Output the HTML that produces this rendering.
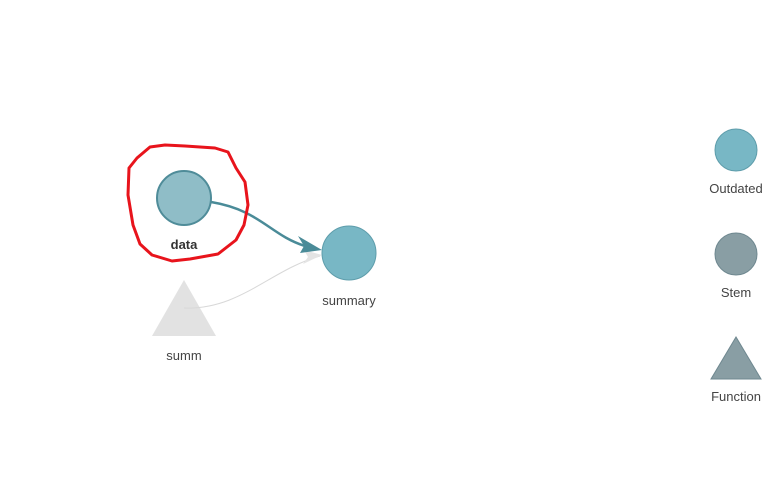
<!DOCTYPE html>
<html><head><style>body{margin:0;background:#fff}svg{display:block}text{font-family:"Liberation Sans",Arial,sans-serif;font-size:13px;fill:#444;text-anchor:middle}</style></head>
<body>
<svg width="771" height="491" viewBox="0 0 771 491">
<polygon points="184,280 152,336 216,336" fill="#e2e2e2"/>
<path d="M184,308 C240,310 270,270 320,256" stroke="#d8d8d8" stroke-width="1" fill="none"/>
<path d="M304,250 L322,255 L303,264 L308,257Z" fill="#e4e4e4"/>
<path d="M211,202 C260,210 270,235 305,246" stroke="#4a8b98" stroke-width="2.5" fill="none"/>
<path d="M298,236 L322,250 L300,253 L304,246Z" fill="#4a8b98"/>
<circle cx="184" cy="198" r="27" fill="#8fbdc7" stroke="#4f8c99" stroke-width="2"/>
<text x="184" y="249" style="font-weight:bold;fill:#333">data</text>
<circle cx="349" cy="253" r="27" fill="#78b7c5" stroke="#5e9dab" stroke-width="1"/>
<text x="349" y="305">summary</text>
<text x="184" y="360">summ</text>
<path d="M150,147 L165,145 L185,146 L215,148 L228,152 L236,168 L245,182 L248,205 L244,225 L236,240 L218,254 L190,259 L172,261 L152,255 L140,244 L133,225 L128,195 L129,168 L137,158Z" fill="none" stroke="#e8141c" stroke-width="3" stroke-linejoin="round"/>
<circle cx="736" cy="150" r="21" fill="#78b7c5" stroke="#5e9dab" stroke-width="1"/>
<text x="736" y="193">Outdated</text>
<circle cx="736" cy="254" r="21" fill="#899ea4" stroke="#6f8890" stroke-width="1"/>
<text x="736" y="297">Stem</text>
<polygon points="736,337 711,379 761,379" fill="#899ea4" stroke="#6f8890" stroke-width="1"/>
<text x="736" y="401">Function</text>
</svg>
</body></html>
